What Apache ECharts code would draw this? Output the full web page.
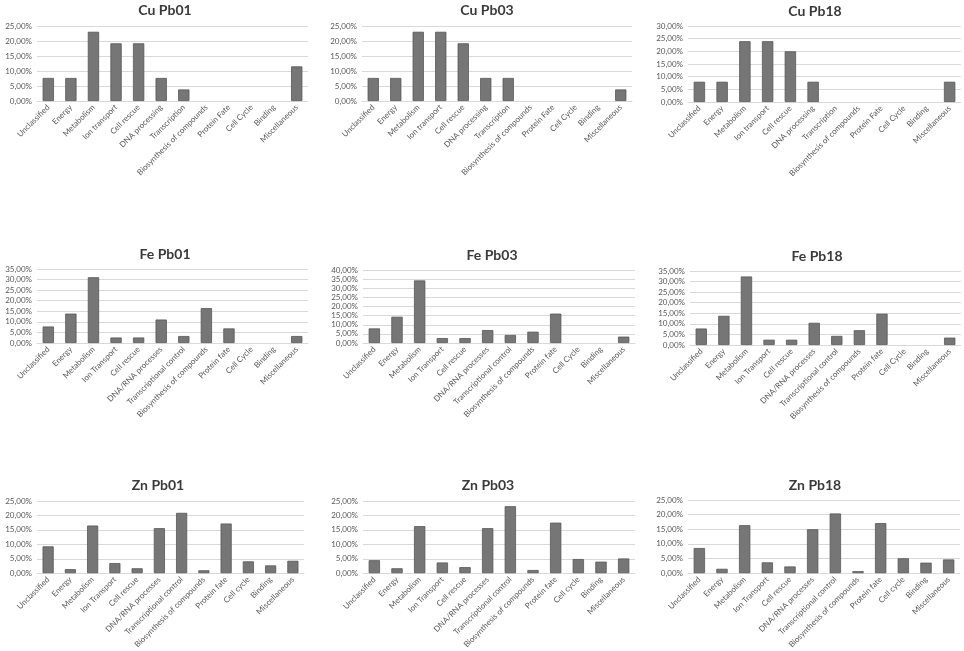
<!DOCTYPE html>
<html>
<head>
<meta charset="utf-8">
<script src="https://cdn.jsdelivr.net/npm/echarts@6/dist/echarts.min.js"></script>
<style>
  html, body { margin: 0; padding: 0; background: #fff; }
  #chart { width: 964px; height: 651px; }
</style>
</head>
<body>
<div id="chart"></div>
<script>
// Category labels per metal group
const cuCategories = ['Unclassified', 'Energy', 'Metabolism', 'Ion transport', 'Cell rescue', 'DNA processing',
  'Transcription', 'Biosynthesis of compounds', 'Protein Fate', 'Cell Cycle', 'Binding', 'Miscellaneous']
const feCategories = ['Unclassified', 'Energy', 'Metabolism', 'Ion Transport', 'Cell rescue', 'DNA/RNA processes',
  'Transcriptional control', 'Biosynthesis of compounds', 'Protein fate', 'Cell Cycle', 'Binding', 'Miscellaneous']
const znCategories = ['Unclassified', 'Energy', 'Metabolism', 'Ion Transport', 'Cell rescue', 'DNA/RNA processes',
  'Transcriptional control', 'Biosynthesis of compounds', 'Protein fate', 'Cell cycle', 'Binding', 'Miscellaneous']

// Percentages
const cuPb01 = [7.69, 7.69, 23.08, 19.23, 19.23, 7.69, 3.85, 0, 0, 0, 0, 11.54]
const cuPb03 = [7.69, 7.69, 23.08, 23.08, 19.23, 7.69, 7.69, 0, 0, 0, 0, 3.85]
const cuPb18 = [8, 8, 24, 24, 20, 8, 0, 0, 0, 0, 0, 8]
const fePb01 = [7.8, 13.9, 31.1, 2.6, 2.6, 11.1, 3.3, 16.5, 6.9, 0, 0, 3.3]
const fePb03 = [8.0, 14.4, 34.3, 2.7, 2.7, 7.1, 4.4, 6.2, 16.1, 0, 0, 3.5]
const fePb18 = [7.8, 13.8, 32.4, 2.5, 2.5, 10.5, 4.3, 7.0, 14.8, 0, 0, 3.5]
const znPb01 = [9.3, 1.4, 16.5, 3.5, 1.7, 15.6, 20.9, 1.0, 17.2, 4.1, 2.7, 4.3]
const znPb03 = [4.5, 1.7, 16.3, 3.7, 2.1, 15.6, 23.2, 1.1, 17.5, 4.9, 4.0, 5.1]
const znPb18 = [8.6, 1.5, 16.4, 3.7, 2.3, 15.0, 20.4, 0.7, 17.1, 5.1, 3.6, 4.7]

// Y-axis maxima (tick labels 0,00% .. max step 5)
const yMax = [25, 25, 30, 35, 40, 35, 25, 25, 25]

const panels = [
  { title: 'Cu Pb01', cats: cuCategories, data: cuPb01, tx: 160, ty: 7,   l: 37,  r: 308, t: 26,  b: 101 },
  { title: 'Cu Pb03', cats: cuCategories, data: cuPb03, tx: 482, ty: 7,   l: 362, r: 632, t: 26,  b: 101 },
  { title: 'Cu Pb18', cats: cuCategories, data: cuPb18, tx: 810, ty: 8,   l: 688, r: 961, t: 26,  b: 102 },
  { title: 'Fe Pb01', cats: feCategories, data: fePb01, tx: 160, ty: 251, l: 37,  r: 308, t: 269, b: 343 },
  { title: 'Fe Pb03', cats: feCategories, data: fePb03, tx: 487, ty: 252, l: 363, r: 635, t: 270, b: 343 },
  { title: 'Fe Pb18', cats: feCategories, data: fePb18, tx: 812, ty: 253, l: 690, r: 961, t: 271, b: 345 },
  { title: 'Zn Pb01', cats: znCategories, data: znPb01, tx: 153, ty: 482, l: 37,  r: 304, t: 501, b: 575 },
  { title: 'Zn Pb03', cats: znCategories, data: znPb03, tx: 483, ty: 482, l: 363, r: 635, t: 501, b: 575 },
  { title: 'Zn Pb18', cats: znCategories, data: znPb18, tx: 810, ty: 482, l: 688, r: 960, t: 500, b: 574 },
]

const W = 964, H = 651
const font = 'Lato, "Open Sans", sans-serif'
const fmt = (v) => v.toFixed(2).replace('.', ',') + '%'

const option = {
  animation: false,
  backgroundColor: '#fff',
  title: panels.map((p) => ({
    text: p.title,
    left: p.tx,
    top: p.ty - 9,
    textAlign: 'center',
    textStyle: { fontFamily: font, fontSize: 14, fontWeight: 'bold', color: '#3a3a3a' },
  })),
  grid: panels.map((p) => ({
    left: p.l, right: W - p.r, top: p.t, bottom: H - p.b, containLabel: false,
  })),
  xAxis: panels.map((p, i) => ({
    type: 'category',
    gridIndex: i,
    data: p.cats,
    axisTick: { show: false },
    axisLine: { lineStyle: { color: '#d9d9d9' } },
    axisLabel: {
      interval: 0, rotate: 45, margin: 5,
      fontFamily: font, fontSize: 8, color: '#595959',
    },
  })),
  yAxis: panels.map((p, i) => ({
    type: 'value',
    gridIndex: i,
    min: 0, max: yMax[i], interval: 5,
    axisLine: { show: false },
    axisTick: { show: false },
    splitLine: { lineStyle: { color: '#d9d9d9' } },
    axisLabel: { formatter: fmt, fontFamily: font, fontSize: 8, color: '#595959', margin: 5 },
  })),
  series: panels.map((p, i) => ({
    type: 'bar',
    xAxisIndex: i,
    yAxisIndex: i,
    // empty categories draw nothing (no border sliver)
    data: p.data.map((v) => (v === 0 ? '-' : v)),
    barWidth: '50%',
    itemStyle: { color: '#767676', borderColor: '#585858', borderWidth: 0.8 },
  })),
}

const chart = echarts.init(document.getElementById('chart'))
chart.setOption(option)
</script>
</body>
</html>
